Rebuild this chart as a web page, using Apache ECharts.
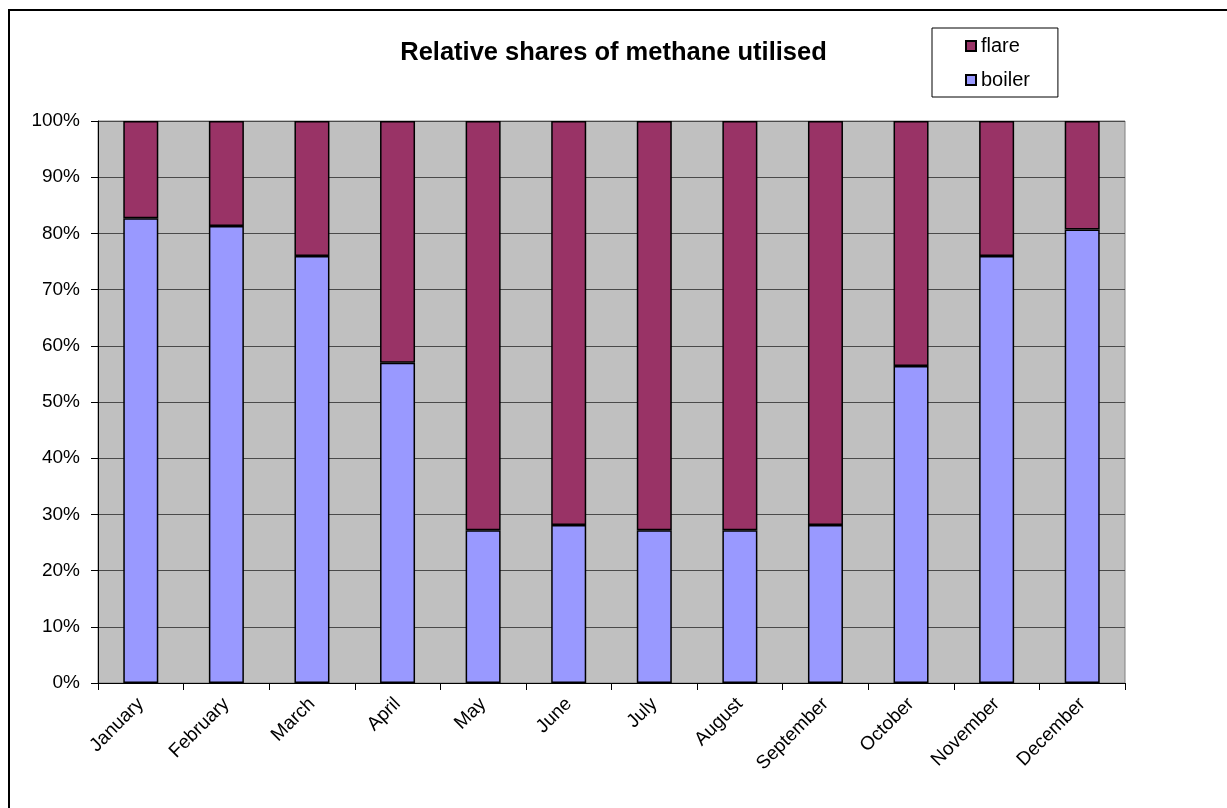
<!DOCTYPE html>
<html>
<head>
<meta charset="utf-8">
<title>Relative shares of methane utilised</title>
<script src="https://cdn.jsdelivr.net/npm/echarts@6/dist/echarts.min.js"></script>
<style>
  html, body { margin: 0; padding: 0; background: #ffffff; }
  #chart { width: 1227px; height: 808px; }
</style>
</head>
<body>
<div id="chart"></div>
<script>
// Monthly shares (%) of the methane sent to the boiler and to the flare
const months = ['January', 'February', 'March', 'April', 'May', 'June',
                'July', 'August', 'September', 'October', 'November', 'December'];
const boilerShare = [82.7, 81.3, 76.0, 57.0, 27.2, 28.1, 27.2, 27.2, 28.1, 56.4, 76.0, 80.7];
const flareShare  = [17.3, 18.7, 24.0, 43.0, 72.8, 71.9, 72.8, 72.8, 71.9, 43.6, 24.0, 19.3];
const percentTicks = { min: 0, max: 100, step: 10 };

const FONT = '"Liberation Sans", Arial, sans-serif';
const chart = echarts.init(document.getElementById('chart'), null, { renderer: 'canvas' });

chart.setOption({
  animation: false,
  backgroundColor: '#ffffff',
  textStyle: { fontFamily: FONT },
  title: {
    text: 'Relative shares of methane utilised',
    left: 'center',
    top: 35,
    textStyle: { fontFamily: FONT, fontSize: 25.5, fontWeight: 'bold', color: '#000' }
  },
  legend: {
    data: ['flare', 'boiler'],
    orient: 'vertical',
    left: 932,
    top: 28,
    padding: [8, 28, 7, 33],
    itemGap: 14,
    itemWidth: 10,
    itemHeight: 10,
    icon: 'rect',
    borderColor: '#000',
    borderWidth: 1,
    backgroundColor: '#fff',
    textStyle: { fontFamily: FONT, fontSize: 20, color: '#000' }
  },
  graphic: [{
    type: 'rect',
    shape: { x: 9, y: 10, width: 1400, height: 1000 },
    style: { fill: 'none', stroke: '#000', lineWidth: 2 },
    silent: true
  }],
  grid: {
    left: 98, right: 102, top: 121, bottom: 125,
    show: true,
    backgroundColor: '#c0c0c0',
    borderColor: '#808080',
    borderWidth: 1
  },
  xAxis: {
    type: 'category',
    data: months,
    boundaryGap: true,
    axisLine: { lineStyle: { color: '#000', width: 1 } },
    axisTick: { show: true, length: 7, lineStyle: { color: '#000' } },
    axisLabel: {
      rotate: 45,
      margin: 18,
      fontFamily: FONT,
      fontSize: 19,
      color: '#000',
      interval: 0
    },
    splitLine: { show: false }
  },
  yAxis: {
    type: 'value',
    min: percentTicks.min,
    max: percentTicks.max,
    interval: percentTicks.step,
    axisLine: { show: true, lineStyle: { color: '#000', width: 1 } },
    axisTick: { show: true, length: 7, lineStyle: { color: '#000' } },
    axisLabel: {
      formatter: '{value}%',
      margin: 18,
      fontFamily: FONT,
      fontSize: 19,
      color: '#000'
    },
    splitLine: { show: true, lineStyle: { color: '#4a4a4a', width: 1.2 } }
  },
  series: [
    {
      name: 'boiler',
      type: 'bar',
      stack: 'share',
      data: boilerShare,
      barWidth: 35,
      itemStyle: { color: '#9999ff', borderColor: '#000', borderWidth: 1.5 }
    },
    {
      name: 'flare',
      type: 'bar',
      stack: 'share',
      data: flareShare,
      barWidth: 35,
      itemStyle: { color: '#993366', borderColor: '#000', borderWidth: 1.5 }
    }
  ]
});
</script>
</body>
</html>
